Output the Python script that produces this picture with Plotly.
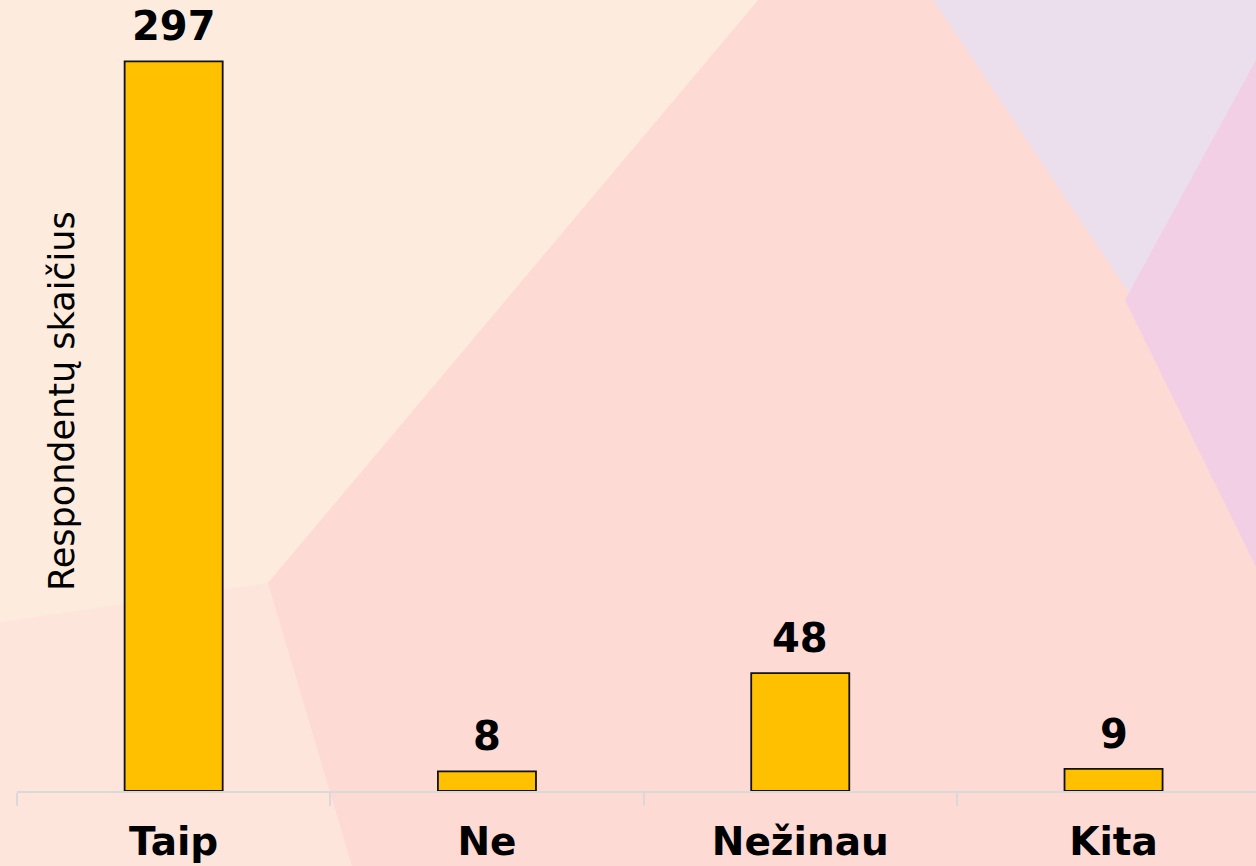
import plotly.graph_objects as go

categories = ["Taip", "Ne", "Nežinau", "Kita"]
values = [297, 8, 48, 9]
y_title = "Respondentų skaičius"

W, H = 1256, 866
ml, mr, mt, mb = 17, 0, 0, 75
ymax = 322.0

fig = go.Figure()
fig.add_trace(go.Bar(
    x=categories, y=values, width=0.313,
    marker=dict(color="#FFC000", line=dict(color="#111111", width=1.8)),
    hoverinfo="skip",
))

# label annotations above bars
for c, v in zip(categories, values):
    fig.add_annotation(x=c, y=v, text=str(v), showarrow=False,
                       yanchor="bottom", yshift=10,
                       font=dict(family="DejaVu Sans", size=40, color="#000000", weight="bold"))

fig.add_annotation(xref="paper", yref="paper", x=(62 - ml) / (W - ml - mr), y=(791 - 401) / 791,
                   text=y_title, textangle=-90, showarrow=False,
                   xanchor="center", yanchor="middle",
                   font=dict(family="DejaVu Sans", size=35, color="#000000"))

# decorative background polygons (paper pixel coords converted)
def px(x, y):
    return (x - ml) / (W - ml - mr), (H - mb - y) / (H - mt - mb)

def poly(points, color):
    p = [px(x, y) for x, y in points]
    path = "M " + " L ".join(f"{a},{b}" for a, b in p) + " Z"
    fig.add_shape(type="path", xref="paper", yref="paper", path=path,
                  fillcolor=color, line=dict(width=0), layer="below")

poly([(-20, -20), (1300, -20), (1300, 900), (-20, 900)], "#FDEBDE")
poly([(-20, 625), (268, 583), (362, 900), (-20, 900)], "#FDE5DB")
poly([(775, -20), (268, 583), (362, 900), (1300, 900), (1300, -20)], "#FDDAD3")
poly([(920, -20), (1300, -20), (1300, 60), (1256, 60), (1135, 302)], "#EBDEED")
poly([(1256, 60), (1300, 60), (1300, 567), (1256, 567), (1125, 300)], "#F2CFE5")

fig.update_layout(
    width=W, height=H,
    margin=dict(l=ml, r=mr, t=mt, b=mb, pad=0),
    paper_bgcolor="#FDEBDE", plot_bgcolor="rgba(0,0,0,0)",
    showlegend=False,
    xaxis=dict(
        range=[-0.5, -0.5 + (W - ml - mr) / 313.3],
        showline=True, linecolor="#D9D9D9", linewidth=2,
        ticks="outside", tickson="boundaries", ticklen=13, tickcolor="#D9D9D9", tickwidth=2,
        ticklabelstandoff=15,
        showgrid=False, zeroline=False,
        tickfont=dict(family="DejaVu Sans", size=39, color="#000000", weight="bold"),
        fixedrange=True,
    ),
    yaxis=dict(range=[0, ymax], visible=False, showgrid=False, zeroline=False, fixedrange=True),
)

fig.write_html("out.html", config={"displayModeBar": False},
               post_script="document.body.style.margin='0';document.body.style.overflow='hidden';")
